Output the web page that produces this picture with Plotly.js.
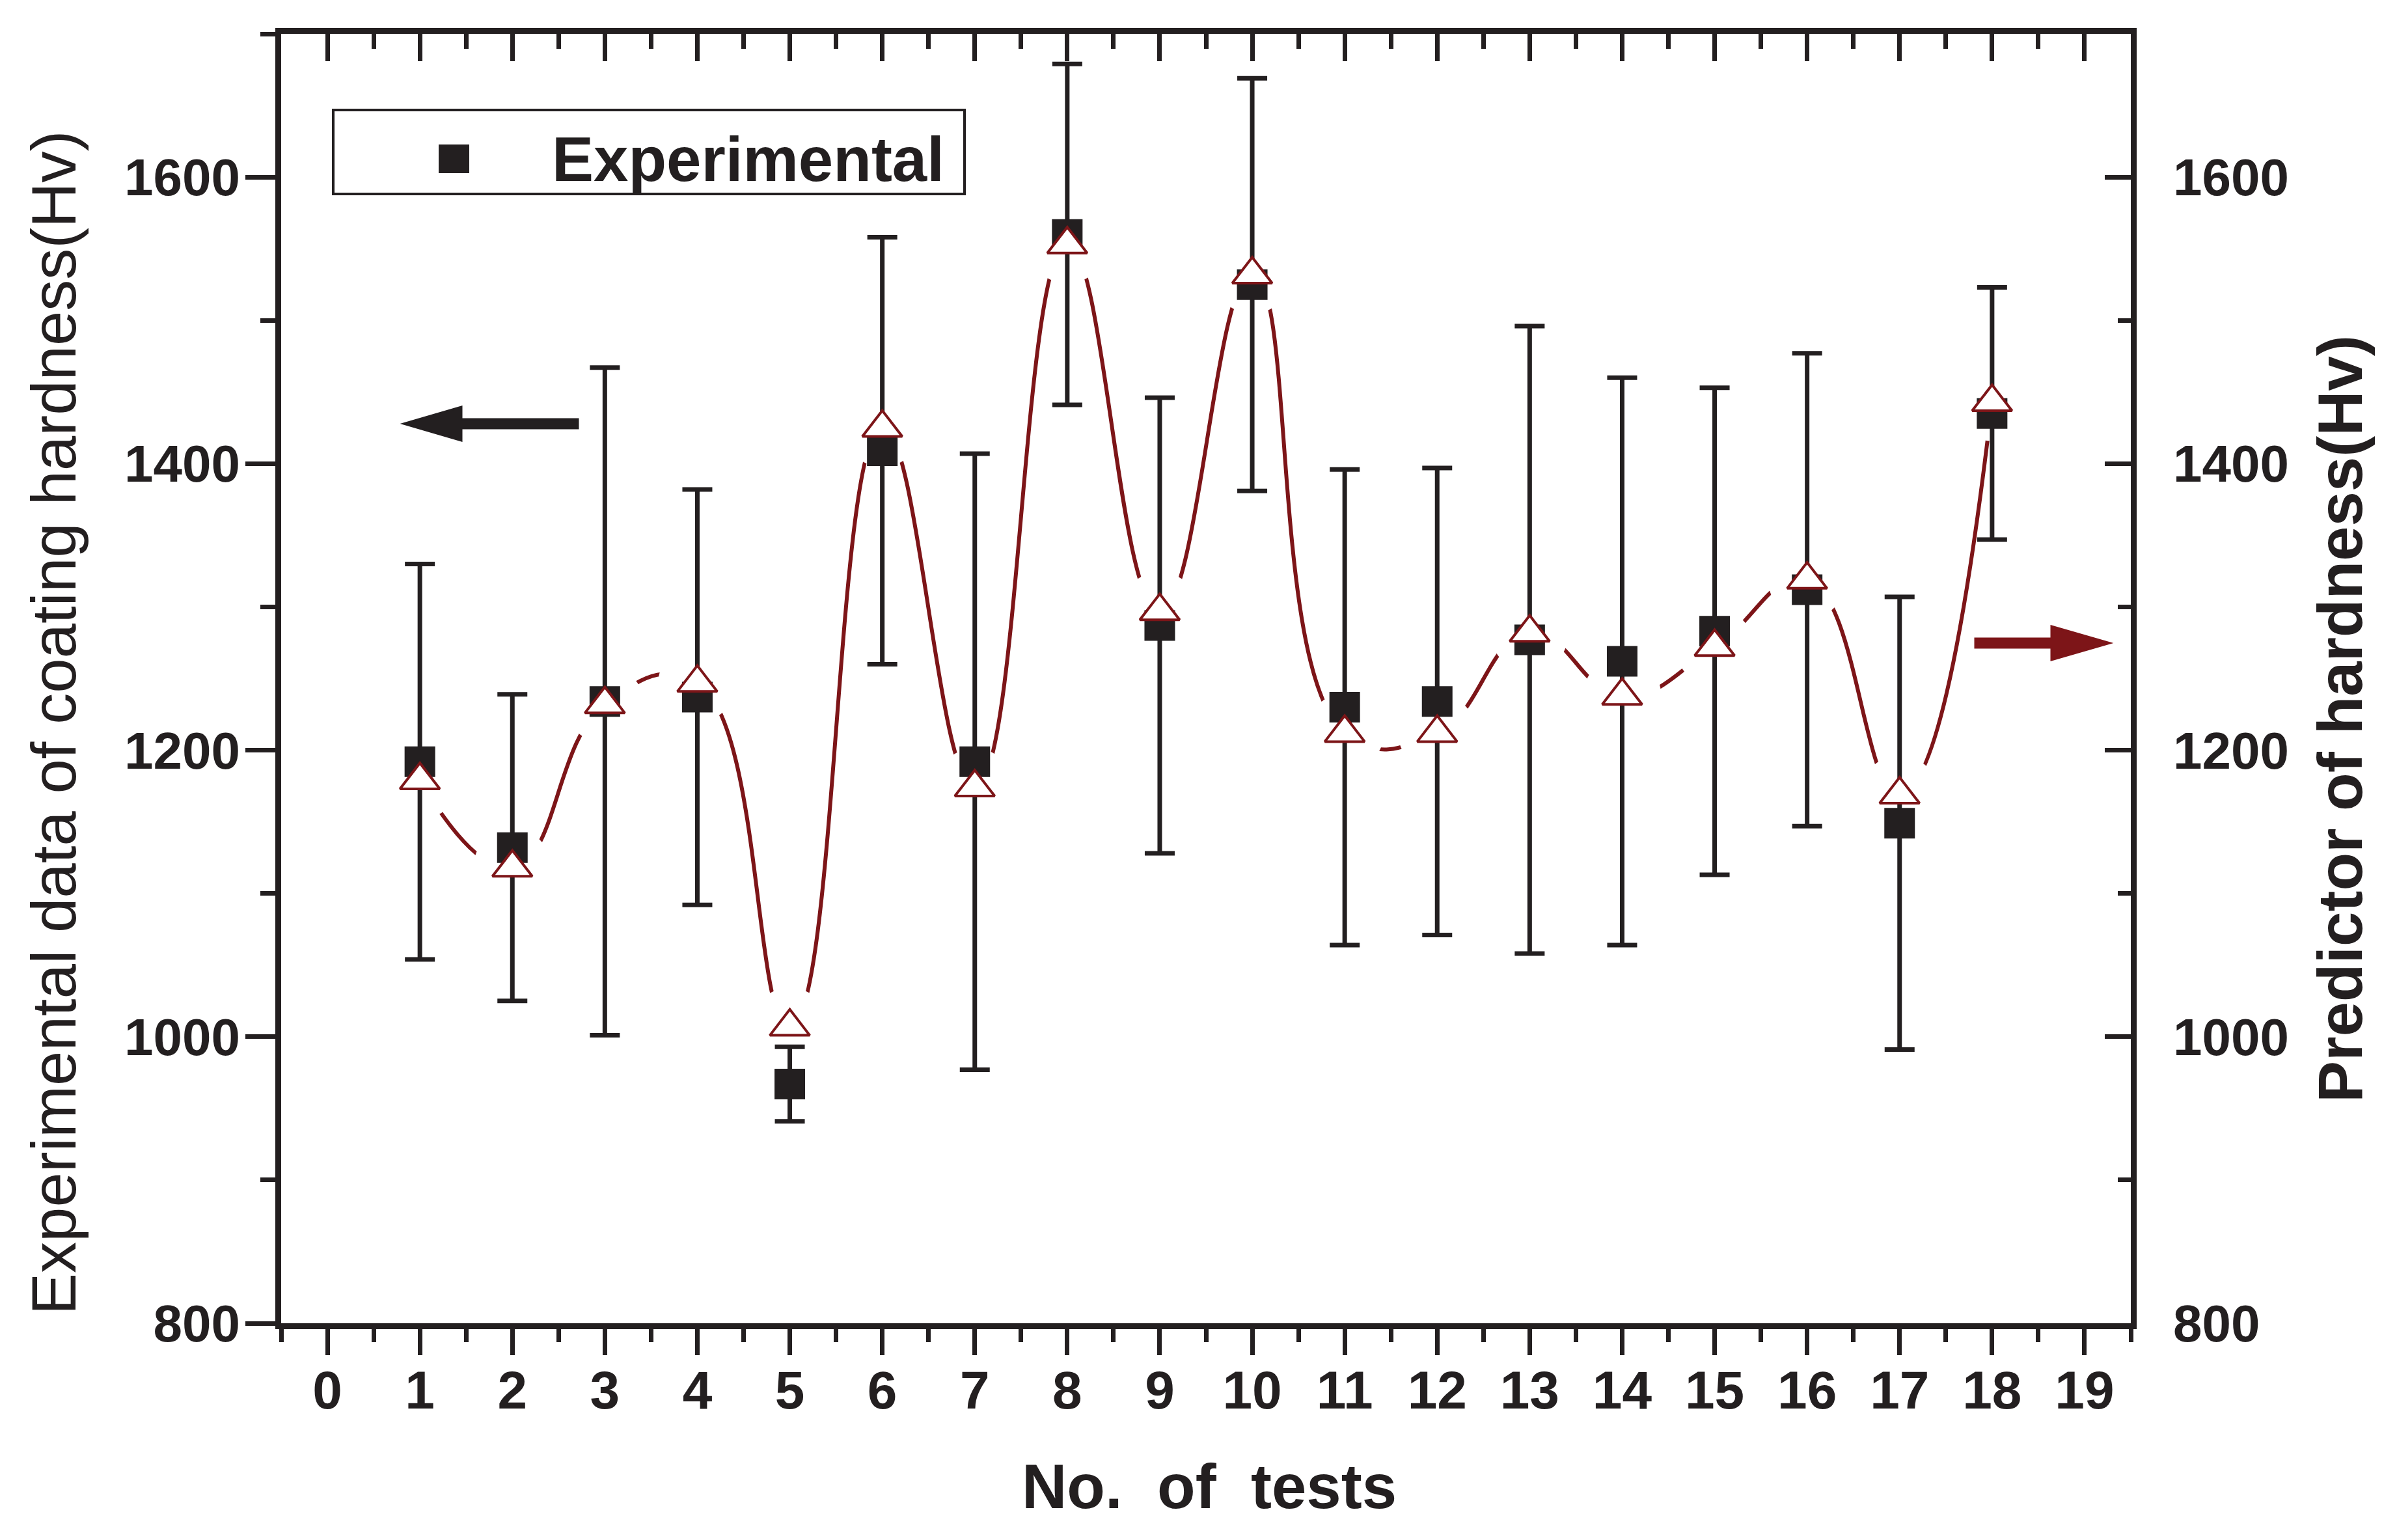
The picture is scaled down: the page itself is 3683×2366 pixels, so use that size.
<!DOCTYPE html>
<html>
<head>
<meta charset="utf-8">
<script src="https://cdn.plot.ly/plotly-3.0.1.min.js"></script>
<style>
  html, body { margin: 0; padding: 0; background: #ffffff; }
  #chart { width: 3683px; height: 2366px; }
</style>
</head>
<body>
<div id="chart"></div>
<script>
// Test numbers
const tests = [1, 2, 3, 4, 5, 6, 7, 8, 9, 10, 11, 12, 13, 14, 15, 16, 17, 18];

// Measured coating hardness (Hv) and its standard deviation
const experimental = [1192, 1132, 1234, 1237, 967, 1409, 1192, 1560, 1287, 1525, 1230, 1234, 1277, 1262, 1283, 1312, 1149, 1435];
const experimentalError = [138, 107, 233, 145, 26, 149, 215, 119, 159, 144, 166, 163, 219, 198, 170, 165, 158, 88];

// Predicted hardness (Hv)
const predicted = [1179, 1118, 1232, 1247, 1007, 1425, 1174, 1553, 1297, 1532, 1212, 1212, 1282, 1238, 1272, 1319, 1169, 1443];

// Axis ticks
const yTickValues = [800, 1000, 1200, 1400, 1600];
const xTickValues = [0, 1, 2, 3, 4, 5, 6, 7, 8, 9, 10, 11, 12, 13, 14, 15, 16, 17, 18, 19];

const INK = '#231F20';
const RED = '#7D1518';
const FONT = 'Liberation Sans, Arial, Helvetica, sans-serif';

// Plot-area frame in page pixels, used to place decorations in paper units
const FRAME = { left: 432, right: 3274, top: 52, bottom: 2033 };
const FW = FRAME.right - FRAME.left;
const FH = FRAME.bottom - FRAME.top;
const px = X => (X - FRAME.left) / FW;
const py = Y => (FRAME.bottom - Y) / FH;
const polygon = pts => 'M ' + pts.map(p => px(p[0]).toFixed(5) + ',' + py(p[1]).toFixed(5)).join(' L ') + ' Z';

const traces = [
  {
    // smooth curve through the predicted values
    x: tests, y: predicted,
    type: 'scatter', mode: 'lines',
    line: { color: RED, width: 6, shape: 'spline', smoothing: 1.3 },
    hoverinfo: 'skip', showlegend: false
  },
  {
    // white gap around each predicted point, so the curve stops short of the symbols
    x: tests, y: predicted,
    type: 'scatter', mode: 'markers',
    marker: { symbol: 'circle', size: 120, color: '#ffffff', line: { width: 0 } },
    hoverinfo: 'skip', showlegend: false
  },
  {
    name: 'Experimental',
    x: tests, y: experimental,
    type: 'scatter', mode: 'markers',
    marker: { symbol: 'square', size: 47, color: INK, line: { width: 0 } },
    error_y: { type: 'data', array: experimentalError, visible: true, color: INK, thickness: 7, width: 23 },
    showlegend: false
  },
  {
    // predicted values, read on the right-hand axis
    name: 'Predictor',
    x: tests, y: predicted, xaxis: 'x2', yaxis: 'y2',
    type: 'scatter', mode: 'markers',
    marker: { symbol: 'triangle-up', size: 53, color: '#ffffff', line: { color: RED, width: 4 } },
    showlegend: false
  }
];

const tickFont = { family: FONT, size: 80, color: INK, weight: 'bold' };

const layout = {
  width: 3683, height: 2366,
  margin: { l: FRAME.left, r: 3683 - FRAME.right, t: FRAME.top, b: 2366 - FRAME.bottom, pad: 0 },
  paper_bgcolor: '#ffffff', plot_bgcolor: '#ffffff',
  font: { family: FONT, color: INK },
  showlegend: false,
  xaxis: {
    range: [-0.5, 19.5], tickmode: 'array', tickvals: xTickValues, ticktext: xTickValues.map(String),
    showgrid: false, zeroline: false,
    showline: true, linewidth: 9, linecolor: INK, mirror: false,
    ticks: 'outside', ticklen: 40, tickwidth: 7, tickcolor: INK,
    minor: { dtick: 0.5, tick0: -0.5, ticks: 'outside', ticklen: 20, tickwidth: 7, tickcolor: INK, showgrid: false },
    tickfont: { family: FONT, size: 82, color: INK, weight: 'bold' },
    ticklabelstandoff: -16
  },
  xaxis2: {
    overlaying: 'x', side: 'top', anchor: 'y2',
    range: [-0.5, 19.5], tickmode: 'array', tickvals: xTickValues,
    showgrid: false, zeroline: false, showticklabels: false,
    showline: true, linewidth: 9, linecolor: INK,
    ticks: 'inside', ticklen: 42, tickwidth: 7, tickcolor: INK,
    minor: { dtick: 0.5, tick0: -0.5, ticks: 'inside', ticklen: 23, tickwidth: 7, tickcolor: INK, showgrid: false }
  },
  yaxis: {
    range: [800, 1700], tickmode: 'array', tickvals: yTickValues, ticktext: yTickValues.map(String),
    showgrid: false, zeroline: false,
    showline: true, linewidth: 9, linecolor: INK, mirror: false,
    ticks: 'outside', ticklen: 46, tickwidth: 7, tickcolor: INK,
    minor: { dtick: 100, tick0: 800, ticks: 'outside', ticklen: 23, tickwidth: 7, tickcolor: INK, showgrid: false },
    tickfont: tickFont, ticklabelstandoff: -8
  },
  yaxis2: {
    overlaying: 'y', side: 'right', anchor: 'x2',
    range: [800, 1700], tickmode: 'array', tickvals: yTickValues, ticktext: yTickValues.map(String),
    showgrid: false, zeroline: false,
    showline: true, linewidth: 9, linecolor: INK,
    ticks: 'inside', ticklen: 40, tickwidth: 7, tickcolor: INK,
    minor: { dtick: 100, tick0: 800, ticks: 'inside', ticklen: 20, tickwidth: 7, tickcolor: INK, showgrid: false },
    tickfont: tickFont, ticklabelstandoff: 40
  },
  shapes: [
    // legend frame and symbol
    { type: 'rect', xref: 'paper', yref: 'paper', x0: px(512), x1: px(1482), y0: py(298), y1: py(169),
      line: { color: INK, width: 4 }, fillcolor: '#ffffff', layer: 'above' },
    { type: 'rect', xref: 'paper', yref: 'paper', x0: px(674), x1: px(721), y0: py(266), y1: py(222),
      line: { width: 0 }, fillcolor: INK, layer: 'above' },
    // arrow pointing at the left axis
    { type: 'path', xref: 'paper', yref: 'paper', layer: 'above',
      path: polygon([[620, 651], [709, 625], [709, 644], [888, 644], [888, 658], [709, 658], [709, 677]]),
      fillcolor: INK, line: { color: INK, width: 3 } },
    // arrow pointing at the right axis
    { type: 'path', xref: 'paper', yref: 'paper', layer: 'above',
      path: polygon([[3242, 988], [3152, 962], [3152, 981], [3035, 981], [3035, 995], [3152, 995], [3152, 1014]]),
      fillcolor: RED, line: { color: RED, width: 3 } }
  ],
  annotations: [
    { text: 'Experimental', xref: 'paper', yref: 'paper', x: px(846), y: py(244),
      xanchor: 'left', yanchor: 'middle', showarrow: false,
      font: { family: FONT, size: 96, color: INK, weight: 'bold' } },
    { text: 'Experimental data of coating hardness(Hv)', xref: 'paper', yref: 'paper',
      x: px(82), y: py(1110), xanchor: 'center', yanchor: 'middle', textangle: -90, showarrow: false,
      font: { family: FONT, size: 96, color: INK } },
    { text: 'Predictor of hardness(Hv)', xref: 'paper', yref: 'paper',
      x: px(3595), y: py(1105), xanchor: 'center', yanchor: 'middle', textangle: -90, showarrow: false,
      font: { family: FONT, size: 96, color: INK, weight: 'bold' } },
    { text: 'No.\u00A0\u00A0of\u00A0\u00A0tests', xref: 'paper', yref: 'paper',
      x: px(1858), y: py(2283), xanchor: 'center', yanchor: 'middle', showarrow: false,
      font: { family: FONT, size: 96, color: INK, weight: 'bold' } }
  ]
};

Plotly.newPlot('chart', traces, layout, { displayModeBar: false, staticPlot: true });
</script>
</body>
</html>
